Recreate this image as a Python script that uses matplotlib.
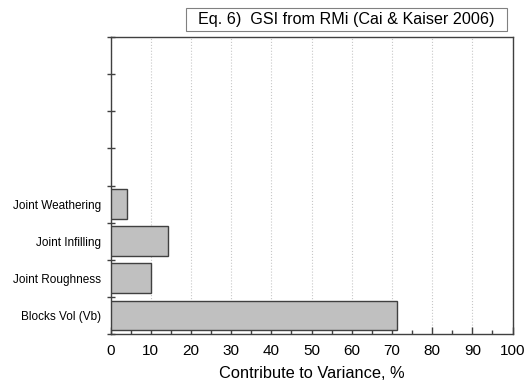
import numpy as np
import matplotlib
matplotlib.use('Agg')
import matplotlib.pyplot as plt
from matplotlib.ticker import MultipleLocator
from matplotlib.patches import Rectangle

plt.rcParams['font.family'] = ['Liberation Sans', 'DejaVu Sans']

# data
factors = ['Blocks Vol (Vb)', 'Joint Roughness', 'Joint Infilling', 'Joint Weathering']
variance = [71.2, 10.0, 14.3, 4.2]
title = 'Eq. 6)  GSI from RMi (Cai & Kaiser 2006)'

W, H = 528, 383
fig = plt.figure(figsize=(W/100, H/100), dpi=100)
ax = fig.add_axes([110.5/W, 1 - 334/H, (512.5-110.5)/W, (334-37)/H])

ypos = np.arange(len(factors)) + 0.5
ax.barh(ypos, variance, height=0.8, color='#c0c0c0', edgecolor='#404040',
        linewidth=1.0, zorder=3)

ax.set_xlim(0, 100)
ax.set_ylim(0, 8)
ax.xaxis.set_major_locator(MultipleLocator(10))
ax.xaxis.set_minor_locator(MultipleLocator(5))
ax.set_yticks(ypos)
ax.set_yticklabels(factors)
ax.yaxis.set_minor_locator(MultipleLocator(1))

ax.tick_params(axis='x', which='major', direction='in', length=5, width=1,
               color='#404040', labelsize=11, pad=7)
ax.tick_params(axis='x', which='minor', direction='in', length=3, width=1,
               color='#404040')
ax.tick_params(axis='y', which='major', length=0, labelsize=8.5, pad=7)
ax.tick_params(axis='y', which='minor', direction='inout', length=6, width=1,
               color='#404040')

for s in ax.spines.values():
    s.set_color('#404040')
    s.set_linewidth(1.0)

ax.grid(axis='x', which='major', linestyle=':', color='#c8c8c8', linewidth=0.8,
        zorder=0)

ax.set_xlabel('Contribute to Variance, %', fontsize=11.8, labelpad=6)

# boxed title
fig.patches.append(Rectangle((186/W, 1 - 31/H), (507-186)/W, (31-8)/H,
                             transform=fig.transFigure, facecolor='white',
                             edgecolor='#808080', linewidth=0.8))
fig.text((186+507)/2/W, 1 - 19.5/H, title, ha='center', va='center',
         fontsize=11.6)

fig.savefig('out.png', dpi=100)
